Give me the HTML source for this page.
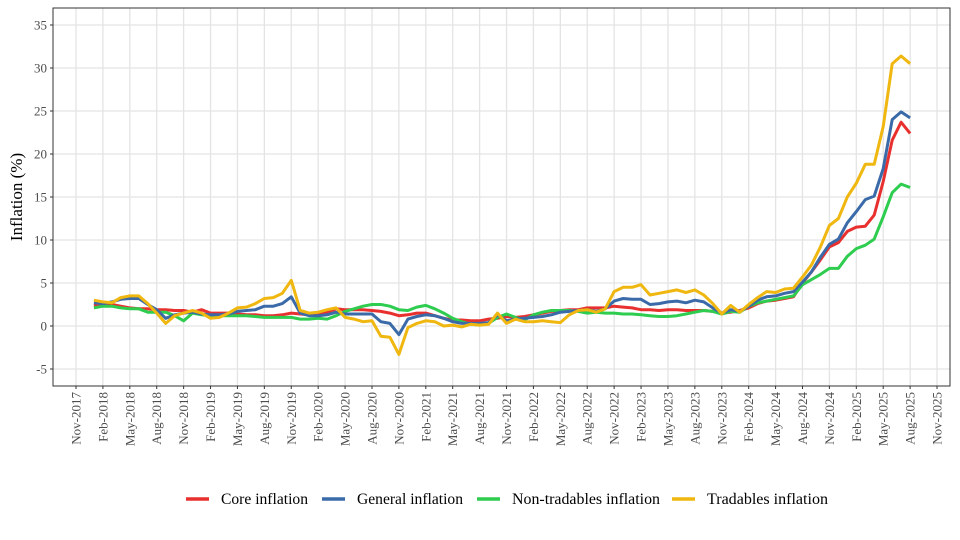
<!DOCTYPE html>
<html><head><meta charset="utf-8"><style>
body{margin:0;background:#fff;}
svg{display:block;font-family:"Liberation Serif",serif;}
</style></head><body>
<svg id="c" width="960" height="540" xmlns="http://www.w3.org/2000/svg"></svg>
<script>
const s=document.getElementById('c');
let h='';
const L=53,R=950,T=8,B=386;
const X=m=>76+m*8.969, Y=v=>326-v*8.6;
for(let m=-3;m<=99;m+=3){const x=X(m);if(x<L||x>R)continue;
 h+=`<line x1="${x}" y1="${T}" x2="${x}" y2="${B}" stroke="#e4e4e4" stroke-width="1.3"/>`;}
for(let v=-5;v<=35;v+=5){const y=Y(v);
 h+=`<line x1="${L}" y1="${y}" x2="${R}" y2="${y}" stroke="#e4e4e4" stroke-width="1.3"/>`;}
for(let v=-5;v<=35;v+=5){const y=Y(v);h+=`<line x1="${L-3}" y1="${y}" x2="${L}" y2="${y}" stroke="#333"/><text x="${L-6}" y="${y+4.5}" font-size="13" text-anchor="end" fill="#4d4d4d">${v}</text>`;}
for(let m=0;m<=96;m+=3){const x=X(m);const mo=['Nov','Feb','May','Aug'][(m/3)%4];const yr=2017+Math.floor((m+10)/12);
 h+=`<line x1="${x}" y1="${B}" x2="${x}" y2="${B+3}" stroke="#333"/><text transform="translate(${x+4.5},${B+6}) rotate(-90)" font-size="13" text-anchor="end" fill="#4d4d4d">${mo}-${yr}</text>`;}
h+=`<text transform="translate(22,197) rotate(-90)" font-size="17" text-anchor="middle" fill="#000">Inflation (%)</text>`;
const D={
r:[2.4,2.5,2.5,2.3,2.1,2.0,2.0,1.9,1.9,1.8,1.8,1.6, 1.9,1.5,1.5,1.5,1.4,1.3,1.3,1.2,1.2,1.3,1.5,1.4, 1.3,1.4,1.6,2.0,1.9,1.9,1.9,1.8,1.7,1.5,1.2,1.3, 1.5,1.5,1.2,0.9,0.7,0.7,0.6,0.6,0.8,0.9,1.1,1.0, 1.1,1.3,1.5,1.7,1.8,1.9,1.9,2.1,2.1,2.1,2.3,2.2, 2.1,1.9,1.9,1.8,1.9,1.9,1.8,1.8,1.8,1.7,1.5,1.6, 1.8,2.1,2.6,2.9,3.0,3.2,3.4,5.0,6.3,7.7,9.2,9.7, 11.0,11.5,11.6,12.9,16.8,21.6,23.7,22.4],
g:[2.1,2.3,2.3,2.1,2.0,2.0,1.6,1.6,1.6,1.2,0.6,1.5, 1.3,1.2,1.2,1.2,1.2,1.2,1.1,1.0,1.0,1.0,1.0,0.8, 0.8,0.9,0.8,1.2,1.7,2.0,2.3,2.5,2.5,2.3,1.9,1.8, 2.2,2.4,2.0,1.5,0.9,0.5,0.2,0.1,0.3,1.0,1.4,1.0, 0.7,1.3,1.6,1.8,1.8,1.8,1.7,1.5,1.6,1.5,1.5,1.4, 1.4,1.3,1.2,1.1,1.1,1.2,1.4,1.6,1.8,1.7,1.4,1.7, 1.6,2.3,2.7,2.9,3.1,3.3,3.5,4.8,5.4,6.0,6.7,6.7, 8.1,9.0,9.4,10.1,12.7,15.5,16.5,16.1],
b:[2.7,2.6,2.8,3.1,3.2,3.2,2.5,1.9,0.9,1.3,1.5,1.6, 1.4,1.3,1.3,1.4,1.7,1.8,1.9,2.3,2.3,2.6,3.4,1.5, 1.2,1.2,1.3,1.6,1.4,1.4,1.4,1.4,0.5,0.3,-1.0,0.8, 1.1,1.3,1.2,0.9,0.5,0.3,0.3,0.3,0.4,1.3,0.6,0.8, 0.9,1.0,1.1,1.3,1.6,1.7,1.8,1.9,1.7,2.0,2.9,3.2, 3.1,3.1,2.5,2.6,2.8,2.9,2.7,3.0,2.8,2.1,1.5,1.9, 1.7,2.3,3.0,3.4,3.5,3.8,4.0,5.1,6.3,8.0,9.5,10.1, 12.0,13.3,14.7,15.1,18.3,24.0,24.9,24.2],
y:[3.0,2.8,2.7,3.3,3.5,3.5,2.6,1.5,0.3,1.2,1.5,1.8, 1.5,0.9,1.0,1.5,2.1,2.2,2.6,3.2,3.3,3.8,5.3,1.8, 1.5,1.6,1.9,2.1,1.0,0.8,0.5,0.6,-1.2,-1.3,-3.3,-0.2, 0.3,0.6,0.5,0.0,0.1,-0.1,0.2,0.1,0.2,1.5,0.3,0.8, 0.5,0.5,0.6,0.5,0.4,1.3,1.8,1.9,1.6,2.0,4.0,4.5, 4.5,4.8,3.6,3.8,4.0,4.2,3.9,4.2,3.6,2.6,1.4,2.4, 1.6,2.5,3.3,4.0,3.9,4.3,4.4,5.7,7.1,9.2,11.7,12.5, 15.0,16.6,18.8,18.8,23.2,30.5,31.4,30.5]};
const col={r:'#e8312f',b:'#3a6aa8',g:'#2ecc4f',y:'#efb70f'};
for(const k of ['r','g','b','y']){
 const pts=D[k].map((v,i)=>`${X(i+2).toFixed(1)},${Y(v).toFixed(1)}`).join(' ');
 h+=`<polyline points="${pts}" fill="none" stroke="${col[k]}" stroke-width="3" stroke-linejoin="round"/>`;}
h+=`<rect x="${L}" y="${T}" width="${R-L}" height="${B-T}" fill="none" stroke="#333" stroke-width="1"/>`;
const leg=[['r','Core inflation',186,87],['b','General inflation',322,106],['g','Non-tradables inflation',477,148],['y','Tradables inflation',672,121]];
for(const [k,t,x,w] of leg){
 h+=`<line x1="${x}" y1="499" x2="${x+23}" y2="499" stroke="${col[k]}" stroke-width="3.5"/><text x="${x+35}" y="504" font-size="15.5" textLength="${w}" lengthAdjust="spacingAndGlyphs" fill="#000">${t}</text>`;}
s.innerHTML=h;
</script>
</body></html>
